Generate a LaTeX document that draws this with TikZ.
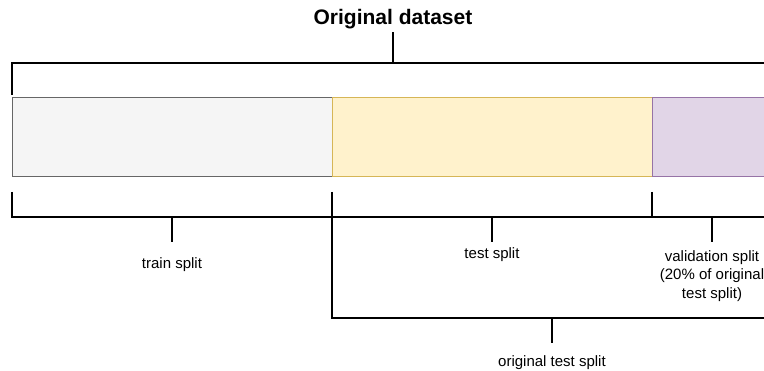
\documentclass[tikz,border=0pt]{standalone}
\usepackage{fontspec}
\setmainfont{Liberation Sans}
\tikzset{
  brace/.style={line width=1.6pt, black},
  lbl/.style={font=\fontsize{15}{18.5}\selectfont, align=center, inner sep=0pt},
  part/.style={line width=0.8pt}
}
\begin{document}
\begin{tikzpicture}[x=1pt, y=-1pt]
\clip (0,0) rectangle (764,371);
% data blocks
\draw[part, draw=black!60, fill=black!4] (12,97) rectangle (332,176);
\draw[part, draw={rgb,255:red,214;green,182;blue,86}, fill={rgb,255:red,255;green,242;blue,204}] (332,97) rectangle (652,176);
\draw[part, draw={rgb,255:red,150;green,115;blue,166}, fill={rgb,255:red,225;green,213;blue,231}] (652,97) rectangle (780,176);
% top brace
\node[font=\fontsize{21}{25}\selectfont\bfseries, inner sep=0pt] (title) at (393,19) {Original dataset};
\draw[brace] (12,95) -- (12,63) -- (780,63);
\draw[brace] (393,63) -- (393,32);
% lower braces
\draw[brace] (12,192) -- (12,217) -- (780,217);
\draw[brace] (332,192) -- (332,318) -- (780,318);
\draw[brace] (652,192) -- (652,217);
\foreach \x / \y in {172/217, 492/217, 712/217, 552/318}
  \draw[brace] (\x,\y) -- (\x,\y+25);
\node[lbl] (train) at (172,265) {train split};
\node[lbl] (test) at (492,255) {test split};
\node[lbl] (valid) at (712,276) {validation split\\(20\% of original\\test split)};
\node[lbl] (orig) at (552,363) {original test split};
\end{tikzpicture}
\end{document}
